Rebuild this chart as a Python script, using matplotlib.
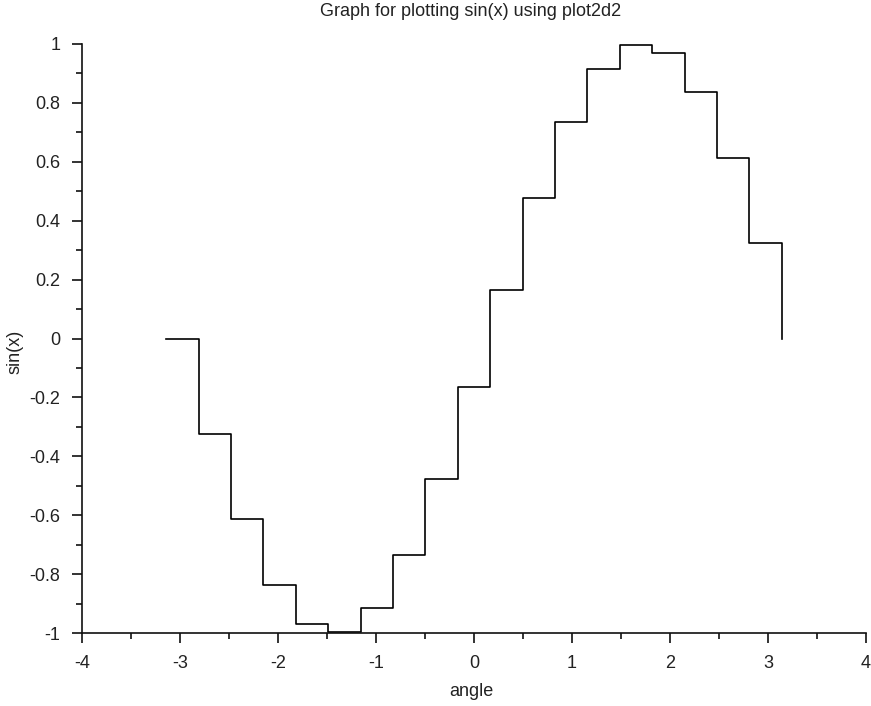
import numpy as np
import matplotlib
matplotlib.use("Agg")
import matplotlib.pyplot as plt

# sample points read from the staircase (plot2d2 style, 20 points over [-pi, pi])
x = [-3.1416, -2.8109, -2.4802, -2.1495, -1.8188, -1.4881, -1.1574, -0.8267,
     -0.4960, -0.1653, 0.1653, 0.4960, 0.8267, 1.1574, 1.4881, 1.8188,
     2.1495, 2.4802, 2.8109, 3.1416]
y = [0.0, -0.3247, -0.6142, -0.8372, -0.9694, -0.9966, -0.9158, -0.7357,
     -0.4759, -0.1646, 0.1646, 0.4759, 0.7357, 0.9158, 0.9966, 0.9694,
     0.8372, 0.6142, 0.3247, 0.0]

xticks = [-4, -3, -2, -1, 0, 1, 2, 3, 4]
yticks = [-1, -0.8, -0.6, -0.4, -0.2, 0, 0.2, 0.4, 0.6, 0.8, 1]
ylabels = ["-1", "-0.8", "-0.6", "-0.4", "-0.2", "0", "0.2", "0.4", "0.6", "0.8", "1"]

plt.rcParams['font.family'] = ['Liberation Sans', 'DejaVu Sans']
txt = '#222222'
fs = 13

fig = plt.figure(figsize=(8.71, 7.06), dpi=100)
ax = fig.add_axes([82 / 871, 73 / 706, 784 / 871, 589 / 706])

ax.step(x, y, where='post', color='black', lw=1.2)

ax.set_xlim(-4, 4)
ax.set_ylim(-1, 1)
ax.set_xticks(xticks)
ax.set_xticklabels([str(v) for v in xticks])
ax.set_yticks(yticks)
ax.set_yticklabels(ylabels)
ax.set_xticks(np.arange(-3.5, 4, 1.0), minor=True)
ax.set_yticks(np.arange(-0.9, 1.0, 0.2), minor=True)

for s in ['top', 'right']:
    ax.spines[s].set_visible(False)
for s in ['left', 'bottom']:
    ax.spines[s].set_linewidth(1.2)
    ax.spines[s].set_color('#111111')

ax.tick_params(which='major', direction='out', length=7.5, width=1.2,
               labelsize=fs, labelcolor=txt, color='#111111')
ax.tick_params(axis='x', which='major', pad=8)
ax.tick_params(axis='y', which='major', pad=8)
ax.tick_params(which='minor', direction='out', length=4, width=1.2, color='#111111')

fig.text(471 / 871, 1 - 691 / 706, 'angle', ha='center', va='center',
         fontsize=fs, color=txt)
fig.text(15 / 871, 1 - 352 / 706, 'sin(x)', ha='center', va='center',
         rotation=90, fontsize=fs, color=txt)
fig.text(471 / 871, 1 - 12 / 706, 'Graph for plotting sin(x) using plot2d2',
         ha='center', va='center', fontsize=fs, color=txt)

fig.savefig('out.png', dpi=100)
